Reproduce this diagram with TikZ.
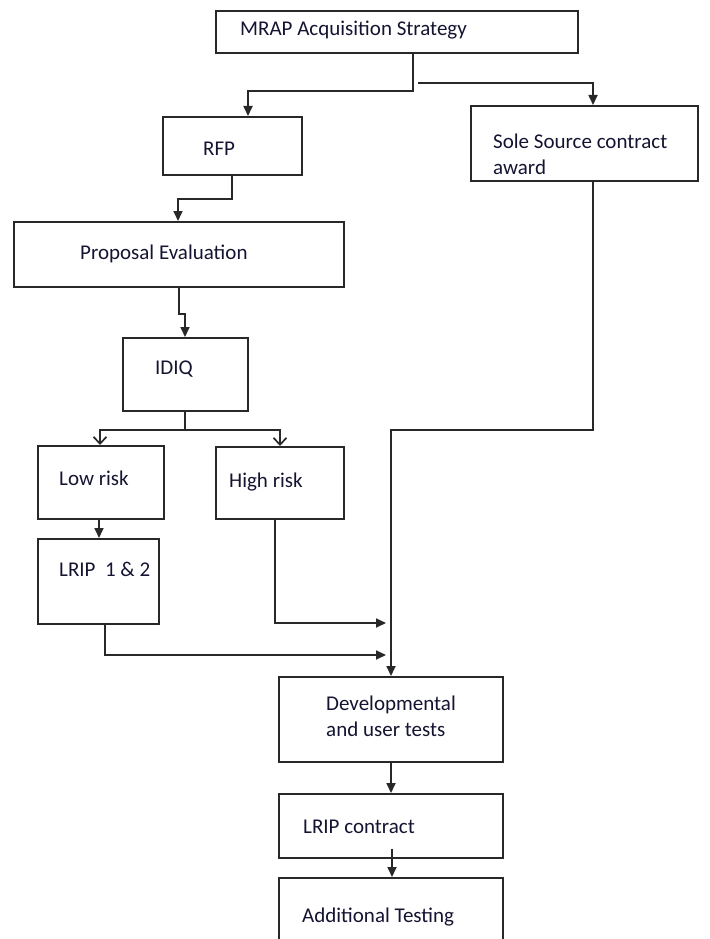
\documentclass[tikz,border=0pt]{standalone}
\usepackage{fontspec}
\setmainfont{Carlito}
\usetikzlibrary{arrows.meta,calc}
\definecolor{L1}{RGB}{40,40,40}
\definecolor{T1}{RGB}{20,20,50}
\tikzstyle{box}=[draw=L1, line width=1.7pt, inner sep=0, anchor=north west]
\tikzstyle{txt}=[anchor=base west, inner sep=0, text=T1, font=\fontsize{21}{26}\selectfont, align=left]
\tikzstyle{link}=[draw=L1, line width=1.7pt, -{Triangle[length=10pt,width=9pt]}]
\tikzstyle{open}=[draw=L1, line width=1.7pt, -{Straight Barb[length=7pt,width=13pt]}]

\begin{document}
\begin{tikzpicture}[x=1pt,y=-1pt]
  \useasboundingbox (0,0) rectangle (709,939);
  \node[box, minimum width=362, minimum height=42] (mrap) at (215,10) {};
  \node[box, minimum width=139, minimum height=58] (rfp) at (162,116) {};
  \node[box, minimum width=227, minimum height=75] (sole) at (470,105) {};
  \node[box, minimum width=330, minimum height=65] (prop) at (13,221) {};
  \node[box, minimum width=125, minimum height=73] (idiq) at (122,337) {};
  \node[box, minimum width=126, minimum height=73] (low) at (37,445) {};
  \node[box, minimum width=128, minimum height=72] (high) at (215,446) {};
  \node[box, minimum width=121, minimum height=85] (lrip) at (37,538) {};
  \node[box, minimum width=224, minimum height=85] (dev) at (278,676) {};
  \node[box, minimum width=224, minimum height=64] (lripc) at (278,793) {};
  \node[box, minimum width=224, minimum height=80] (add) at (278,877) {};

  \node[txt] (mrap-t) at (240,36) {MRAP Acquisition Strategy};
  \node[txt] (rfp-t) at (203,155) {RFP};
  \node[txt] (sole-t) at (493,174) {Sole Source contract\\award};
  \node[txt] (prop-t) at (80,259) {Proposal Evaluation};
  \node[txt] (idiq-t) at (155,374) {IDIQ};
  \node[txt] (low-t) at (59,485) {Low risk};
  \node[txt] (high-t) at (229,487) {High risk};
  \node[txt] (lrip-t) at (59,576) {LRIP\ \ 1 \& 2};
  \node[txt] (dev-t) at (326,736) {Developmental\\and user tests};
  \node[txt] (lripc-t) at (303,833) {LRIP contract};
  \node[txt] (add-t) at (302,922) {Additional Testing};

  \coordinate (split) at (418,83);
  \coordinate (inA) at (386,623); \coordinate (inB) at (386,655);
  \draw[link] ($(mrap.south west)+(198,0)$) -- ++(0,37) -| ($(rfp.north west)+(86,0)$);
  \draw[link] (split) -| ($(sole.north west)+(123,0)$);
  \draw[link] ($(rfp.south west)+(70,0)$) -- ++(0,23) -| ($(prop.north west)+(165,0)$);
  \draw[link] ($(prop.south west)+(166,0)$) -- ++(0,26) -| ($(idiq.north west)+(63,0)$);
  \draw[open] ($(idiq.south west)+(63,0)$) -- ++(0,18) -| ($(low.north west)+(63,0)$);
  \draw[open] ($(idiq.south west)+(63,0)$) -- ++(0,18) -| ($(high.north west)+(65,0)$);
  \draw[link] ($(low.south west)+(62,0)$) -- ($(lrip.north west)+(62,0)$);
  \draw[link] ($(high.south west)+(60,0)$) |- (inA);
  \draw[link] ($(lrip.south west)+(68,0)$) |- (inB);
  \draw[link] ($(sole.south west)+(123,0)$) -- ++(0,248) -| ($(dev.north west)+(113,0)$);
  \draw[link] ($(dev.south west)+(113,0)$) -- ($(lripc.north west)+(113,0)$);
  \draw[link] ($(lripc.south west)+(114,-10)$) -- ($(add.north west)+(114,0)$);
\end{tikzpicture}
\end{document}
